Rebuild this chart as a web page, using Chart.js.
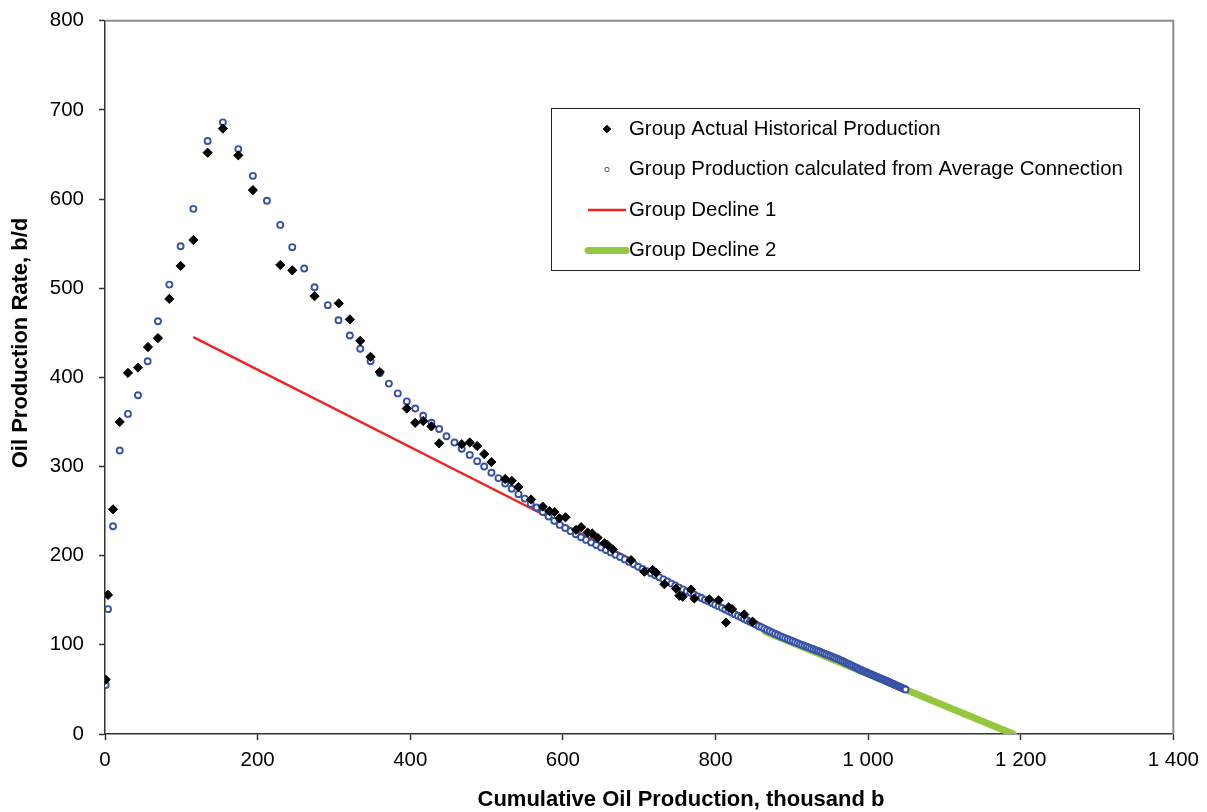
<!DOCTYPE html>
<html>
<head>
<meta charset="utf-8">
<script src="https://cdn.jsdelivr.net/npm/chart.js@4.4.1/dist/chart.umd.min.js"></script>
<style>
  html, body { margin: 0; padding: 0; background: #fff; }
  #wrap { width: 1207px; height: 812px; }
</style>
</head>
<body>
<div id="wrap"><canvas id="chart" width="1207" height="812"></canvas></div>
<script>
// cumulative oil production (thousand b) and rate (b/d)
const actualX = [
  0.9, 3.9, 10.5, 19.3, 30.1, 43.2, 56.3, 69.4, 84.3, 99.1,
  115.8, 134.5, 154.5, 174.7, 193.8, 229.7, 245.4, 274.6, 306.4, 320.9,
  334.5, 348.0, 360.1, 395.5, 406.5, 417.0, 427.8, 437.9, 467.5, 478.0,
  487.7, 496.9, 506.4, 524.4, 533.0, 541.8, 558.4, 573.6, 582.4, 589.0,
  595.5, 603.4, 617.3, 623.9, 632.5, 638.3, 645.6, 654.4, 658.7, 665.3,
  689.4, 706.8, 717.7, 722.1, 733.0, 748.3, 752.6, 757.0, 768.0, 772.3,
  791.9, 804.1, 813.8, 817.2, 821.7, 837.7, 848.6
];
const actualY = [
  61, 156, 252, 350, 405, 411, 434, 444, 488, 525,
  554, 652, 679, 649, 610, 526, 520, 491, 483, 465,
  441, 423, 406, 365, 349, 351, 345, 326, 325, 327,
  323, 314, 305, 286, 284, 277, 263, 255, 250, 249,
  242, 243, 229, 232, 226, 225, 220, 214, 212, 207,
  195, 182, 184, 181, 168, 163, 155, 154, 162, 152,
  151, 150, 125, 142, 140, 134, 126
];

const calcX = [
  0.9, 3.9, 10.5, 19.3, 30.1, 43.2, 55.9, 69.4, 84.3, 99.1,
  115.8, 134.5, 154.5, 174.7, 193.8, 212.2, 229.7, 245.4, 261.1, 274.6,
  292.0, 306.0, 320.9, 334.5, 348.0, 360.1, 372.0, 383.7, 395.5, 406.5,
  417.0, 427.8, 437.9, 447.5, 458.0, 467.5, 478.0, 487.7, 496.9, 506.4,
  515.6, 524.4, 533.0, 541.8, 550.0, 557.9, 565.7,
  573.7, 581.3, 588.7, 596.0, 603.1, 610.1, 617.0, 623.8, 630.5, 637.1,
  643.7, 650.1, 656.5, 662.8, 669.0, 675.1, 681.1, 687.1, 692.9, 698.7,
  704.4, 710.0, 715.6, 721.1, 726.5, 731.8, 737.1, 742.3, 747.4, 752.5,
  757.5, 762.4, 767.3, 772.1, 776.8, 781.5, 786.2, 790.7, 795.3, 799.7,
  804.1, 808.5, 812.8, 817.0, 821.2, 825.3, 829.4, 833.5, 837.4, 841.4,
  845.2, 849.1, 852.8, 856.6, 860.2, 863.9, 867.5, 871.0, 874.5, 878.0,
  881.4, 884.8, 888.1, 891.4, 894.7, 897.9, 901.1, 904.3, 907.4, 910.5,
  913.6, 916.6, 919.6, 922.6, 925.5, 928.4, 931.3, 934.2, 937.0, 939.8,
  942.6, 945.3, 948.0, 950.7, 953.4, 956.0, 958.6, 961.2, 963.7, 966.2,
  968.7, 971.2, 973.6, 976.0, 978.4, 980.7, 983.0, 985.3, 987.6, 989.8,
  992.0, 994.2, 996.3, 998.4, 1000.5, 1002.6, 1004.7, 1006.7, 1008.7, 1010.7,
  1012.7, 1014.6, 1016.5, 1018.4, 1020.3, 1022.2, 1024.0, 1025.8, 1027.6, 1029.4,
  1031.1, 1032.8, 1034.5, 1036.2, 1037.9, 1039.6, 1041.2, 1042.8, 1044.4, 1046.0,
  1047.6, 1049.1
];
const calcY = [
  55, 140, 233, 318, 359, 380, 418, 463, 504, 547,
  589, 665, 686, 656, 626, 598, 571, 546, 522, 501,
  481, 464, 447, 432, 418, 405, 393, 382, 373, 365,
  357, 349, 342, 334, 327, 320, 313, 306, 300, 293,
  287, 281, 275, 269, 264, 258, 254,
  249.0, 244.0, 239.1, 234.5, 231.0, 227.5, 224.0, 220.7, 217.7, 214.8,
  211.9, 209.1, 206.4, 203.7, 201.1, 198.5, 195.8, 193.0, 190.3, 187.6,
  185.1, 182.7, 180.3, 178.0, 175.7, 173.4, 171.0, 168.7, 166.5, 164.2,
  162.2, 160.2, 158.3, 156.3, 154.4, 152.5, 150.6, 148.8, 147.0, 145.1,
  143.4, 141.5, 139.7, 137.9, 136.1, 134.4, 132.7, 130.9, 129.3, 127.6,
  126.0, 124.4, 122.8, 121.2, 119.7, 118.2, 116.7, 115.3, 113.9, 112.4,
  111.1, 109.7, 108.6, 107.4, 106.3, 105.2, 104.1, 103.0, 101.9, 100.8,
  99.8, 98.8, 97.9, 96.9, 95.9, 95.0, 94.0, 93.1, 92.2, 91.2,
  90.2, 89.3, 88.3, 87.4, 86.5, 85.6, 84.7, 83.8, 82.8, 81.8,
  80.8, 79.7, 78.8, 77.8, 76.8, 75.9, 74.9, 74.0, 73.0, 72.1,
  71.3, 70.5, 69.7, 68.9, 68.2, 67.4, 66.6, 65.9, 65.2, 64.4,
  63.7, 63.0, 62.3, 61.6, 60.9, 60.2, 59.5, 58.8, 58.1, 57.4,
  56.8, 56.1, 55.5, 54.8, 54.2, 53.5, 52.9, 52.3, 51.7, 51.1,
  50.5, 49.9
];

const decline1X = [115.8, 690];
const decline1Y = [445, 196];
const decline2X = [865, 1190];
const decline2Y = [115, 0];

const seriesNames = [
  'Group Actual Historical Production',
  'Group Production calculated from Average Connection',
  'Group Decline 1',
  'Group Decline 2'
];
const xTitle = 'Cumulative Oil Production, thousand b';
const yTitle = 'Oil Production Rate, b/d';

function pairs(xs, ys) {
  return xs.map((x, i) => ({ x: x, y: ys[i] }));
}

function spaced(v) {
  return String(v).replace(/\B(?=(\d{3})+(?!\d))/g, ' ');
}

const FONT = '"Liberation Sans", Arial, sans-serif';
Chart.defaults.font.family = FONT;
Chart.defaults.color = '#000';

// grey top and right edges of the plot area
const frame = {
  id: 'frame',
  beforeDatasetsDraw(chart) {
    const a = chart.chartArea, ctx = chart.ctx;
    ctx.save();
    ctx.strokeStyle = '#8c8c8c';
    ctx.lineWidth = 2;
    ctx.beginPath();
    ctx.moveTo(a.left, a.top);
    ctx.lineTo(a.right, a.top);
    ctx.lineTo(a.right, a.bottom);
    ctx.stroke();
    ctx.restore();
  }
};

// axis titles sit a little off-centre in the original, so they are placed by hand
const axisTitles = {
  id: 'axisTitles',
  afterDraw(chart) {
    const ctx = chart.ctx;
    ctx.save();
    ctx.fillStyle = '#000';
    ctx.font = 'bold 22px ' + FONT;
    ctx.textAlign = 'center';
    ctx.textBaseline = 'middle';
    ctx.fillText(xTitle, 681, 800);
    ctx.translate(21, 343);
    ctx.rotate(-Math.PI / 2);
    ctx.fillText(yTitle, 0, 0);
    ctx.restore();
  }
};

// boxed legend inside the plot
const boxLegend = {
  id: 'boxLegend',
  afterDraw(chart) {
    const ctx = chart.ctx;
    const bx = 551, by = 108, bw = 588, bh = 162;
    ctx.save();
    ctx.fillStyle = '#fff';
    ctx.fillRect(bx, by, bw, bh);
    ctx.strokeStyle = '#222';
    ctx.lineWidth = 1;
    ctx.strokeRect(bx + 0.5, by + 0.5, bw, bh);
    chart.data.datasets.forEach((ds, i) => {
      const y = by + 21 + i * 40.5;
      if (ds.showLine) {
        ctx.strokeStyle = ds.borderColor;
        ctx.lineWidth = ds.borderWidth;
        ctx.lineCap = ds.borderCapStyle || 'butt';
        ctx.beginPath();
        ctx.moveTo(588, y);
        ctx.lineTo(626, y);
        ctx.stroke();
      } else {
        ctx.fillStyle = ds.backgroundColor;
        ctx.strokeStyle = ds.borderColor;
        Chart.helpers.drawPoint(ctx, {
          pointStyle: ds.pointStyle,
          radius: ds.pointRadius - 0.8,
          borderWidth: ds.pointBorderWidth,
          rotation: 0
        }, 607, y);
      }
      ctx.fillStyle = '#000';
      ctx.font = '20.4px ' + FONT;
      ctx.textAlign = 'left';
      ctx.textBaseline = 'middle';
      ctx.fillText(ds.label, 629, y);
    });
    ctx.restore();
  }
};

new Chart(document.getElementById('chart'), {
  type: 'scatter',
  data: {
    datasets: [
      {
        label: seriesNames[0],
        data: pairs(actualX, actualY),
        pointStyle: 'rectRot',
        pointRadius: 4.6,
        pointBorderWidth: 1,
        backgroundColor: '#000',
        borderColor: '#000'
      },
      {
        label: seriesNames[1],
        data: pairs(calcX, calcY),
        pointStyle: 'circle',
        pointRadius: 3,
        pointBorderWidth: 1.9,
        backgroundColor: '#fff',
        borderColor: '#3753a8'
      },
      {
        label: seriesNames[2],
        data: pairs(decline1X, decline1Y),
        showLine: true,
        pointRadius: 0,
        borderColor: '#ee2426',
        borderWidth: 2.5
      },
      {
        label: seriesNames[3],
        data: pairs(decline2X, decline2Y),
        showLine: true,
        pointRadius: 0,
        borderColor: '#93c83e',
        borderWidth: 7,
        borderCapStyle: 'round'
      }
    ]
  },
  options: {
    responsive: false,
    animation: false,
    layout: { padding: { top: 20.7, right: 33, left: 0, bottom: 0 } },
    plugins: {
      legend: { display: false },
      tooltip: { enabled: false }
    },
    scales: {
      x: {
        type: 'linear',
        min: 0,
        max: 1400,
        ticks: {
          stepSize: 200,
          padding: 8,
          font: { size: 20.5 },
          callback: v => spaced(v)
        },
        grid: { drawOnChartArea: false, tickLength: 6, color: '#333', tickWidth: 1.5 },
        border: { color: '#333', width: 1.5 },
        afterFit: s => { s.height = 78; }
      },
      y: {
        type: 'linear',
        min: 0,
        max: 800,
        ticks: {
          stepSize: 100,
          padding: 15,
          font: { size: 20.5 }
        },
        grid: { drawOnChartArea: false, tickLength: 6, color: '#333', tickWidth: 1.5 },
        border: { color: '#333', width: 1.5 },
        afterFit: s => {
          s.width = 105;
          s.paddingTop = 0;
          s.paddingBottom = 0;
        }
      }
    }
  },
  plugins: [frame, axisTitles, boxLegend]
});
</script>
</body>
</html>
